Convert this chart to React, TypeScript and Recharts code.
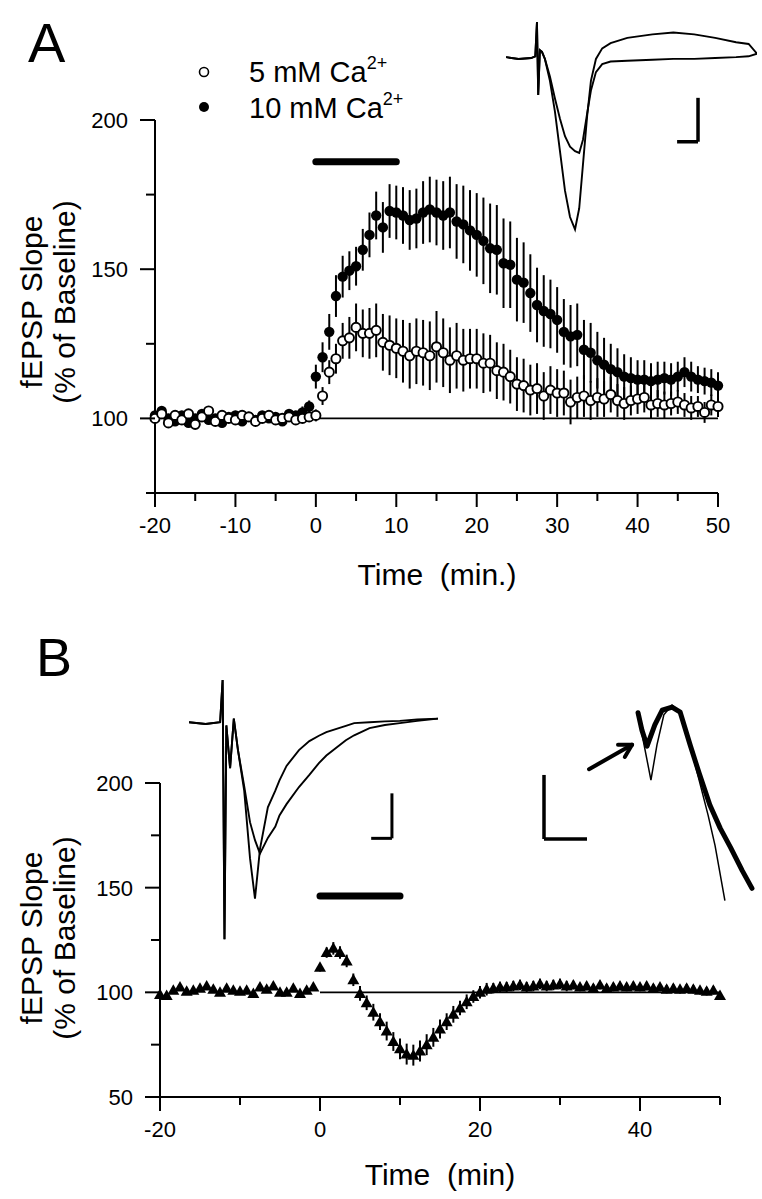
import React from 'react';
import { ScatterChart, Scatter, XAxis, YAxis, ErrorBar, ReferenceLine, LineChart, Line } from 'recharts';

const FONT = '"Liberation Sans", Arial, Helvetica, sans-serif';

// sampling grid, one average every 50 s from -20 to 50 min
const timeMin = Array.from({ length: 85 }, (_, i) => -20 + (i * 70) / 84);

// panel A: fEPSP slope (% of baseline)
const ca5Mean = [
  100, 101.5, 98.5, 101, 99.5, 101.5, 98, 100.5, 102.5, 99, 101, 100, 99.5, 101, 100.5, 99, 100, 101, 99.5, 100, 100.5, 99.5, 100, 100.5,
  101, 107.5, 115.5, 120, 126, 127, 130.5, 128.5, 128.5, 129.5, 125.5, 124.5, 123.5, 122.5, 121, 122.5, 122, 121, 124, 122, 119.5,
  121, 119.5, 120, 120, 118.5, 118.5, 116, 115.5, 114, 111.5, 111, 109.5, 110, 107.5, 109.5, 108.5, 108.5, 105.5, 107, 107.5, 106,
  107, 106.5, 108, 106, 105, 106, 106.5, 107, 104.5, 105, 104.5, 105, 105.5, 104.5, 103.5, 104, 102, 104.5, 104,
];
const ca5Sem = [
  1.5, 1.5, 1.5, 1.5, 1.5, 1.5, 1.5, 1.5, 1.5, 1.5, 1.5, 1.5, 1.5, 1.5, 1.5, 1.5, 1.5, 1.5, 1.5, 1.5, 1.5, 1.5, 1.5, 1.5,
  2, 3, 4, 5, 6, 7, 8, 8, 8.5, 9, 9.5, 10, 10, 10.5, 11, 11, 11, 11.5, 12, 11.5, 11, 11, 10.5, 10, 10, 10, 9.5, 9.5, 9.5, 9,
  9, 9, 8.5, 8.5, 8, 8, 8, 7.5, 7.5, 7, 7, 6.5, 6.5, 6, 6, 5.5, 5.5, 5, 5, 5, 4.5, 4.5, 4.5, 4, 4, 4, 4, 3.5, 3.5, 3.5, 3.5,
];
const ca10Mean = [
  101, 102.5, 100, 99, 101, 98.5, 100, 101.5, 99.5, 100, 98.5, 100.5, 101, 99, 100.5, 99.5, 101, 100, 100.5, 99, 101.5, 101, 102, 104,
  114, 120.5, 129, 141, 147.5, 149.5, 151, 156.5, 161.5, 168, 164, 169.5, 169, 168, 166.5, 167, 169, 170, 169, 168, 169, 166, 165,
  163, 161.5, 159.5, 157, 156.5, 152, 151.5, 146.5, 145.5, 142, 138, 136, 135, 133, 129, 127.5, 128, 123, 122, 119.5,
  118, 116.5, 115.5, 114, 113.5, 113, 113, 112.5, 113, 113.5, 113, 114, 115.5, 114, 113, 112.5, 112, 111,
];
const ca10Sem = [
  1.5, 1.5, 1.5, 1.5, 1.5, 1.5, 1.5, 1.5, 1.5, 1.5, 1.5, 1.5, 1.5, 1.5, 1.5, 1.5, 1.5, 1.5, 1.5, 1.5, 1.5, 1.5, 2, 2,
  4, 5, 6, 7, 7, 6.5, 6.5, 7, 7.5, 8, 8.5, 9, 9, 9.5, 10, 10, 10.5, 11, 11, 11.5, 12, 12.5, 13, 13.5, 14, 14.5, 15, 15, 15, 14.5,
  14, 13.5, 13, 12.5, 12, 11.5, 11, 11, 10.5, 10.5, 10, 10, 9.5, 9, 8.5, 8, 7.5, 7, 6.5, 6.5, 6, 6, 5.5, 5.5, 5, 5, 5, 4.5, 4.5, 4.5, 4.5,
];

// panel B
const bMean = [
  99, 98.5, 101, 102.5, 100.5, 101, 102, 103, 101.5, 100, 102, 101, 100.5, 101, 99.5, 102.5, 101.5, 103, 100, 100, 102, 99.5, 101, 102.5,
  112, 119, 121, 119, 115, 106, 99.5, 95, 90.5, 86, 81.5, 76.5, 73, 70.5, 70, 72, 75, 78.5, 82.5, 86, 89.5, 92.5, 95.5, 98, 100,
  101.5, 102, 102.5, 102.5, 103, 103.5, 102.5, 103, 104, 103, 103.5, 104, 103, 103.5, 102.5, 103, 102, 103.5, 102, 102.5, 103, 102.5,
  103, 102.5, 103, 102, 102.5, 101.5, 102, 101.5, 102, 101.5, 101, 100.5, 101, 98.5,
];
const bSem = [
  1.5, 1.5, 1.5, 1.5, 1.5, 1.5, 1.5, 1.5, 1.5, 1.5, 1.5, 1.5, 1.5, 1.5, 1.5, 1.5, 1.5, 1.5, 1.5, 1.5, 1.5, 1.5, 1.5, 1.5,
  2, 2.5, 3, 3, 3, 3, 3.5, 3.5, 4, 4, 4.5, 4.5, 5, 5, 5, 5, 5, 4.5, 4.5, 4, 4, 3.5, 3.5, 3, 3, 3, 2.5, 2.5, 2.5, 2.5,
  2.5, 2.5, 2.5, 2.5, 2.5, 2.5, 2.5, 2.5, 2, 2, 2, 2, 2, 2, 2, 2, 2, 2, 2, 2, 2, 2, 2, 2, 2, 2, 2, 2, 2, 2, 2,
];

const ticksAx = [-20, -15, -10, -5, 0, 5, 10, 15, 20, 25, 30, 35, 40, 45, 50];
const ticksAy = [75, 100, 125, 150, 175, 200];
const ticksBx = [-20, -10, 0, 10, 20, 30, 40, 50];
const ticksBy = [50, 75, 100, 125, 150, 175, 200];

const drugA = { from: 0, to: 10, level: 186 };
const drugB = { from: 0, to: 10, level: 146 };

// inset A: averaged fEPSPs (ms, mV)
const insetATime = [0, 3, 6, 7, 7.4, 7.7, 8.1, 8.6, 9.3, 10.5, 11.7, 12.9, 14.1, 15.3, 16.5, 17.5, 18.4, 19.4, 20.3, 21.5, 23, 25, 29, 35, 40, 45, 50, 55, 58, 60];
const insetA10 = [0.02, 0, 0.01, 0.03, 0.42, -0.41, 0.1, 0.08, 0, -0.25, -0.6, -1.05, -1.5, -1.8, -1.94, -1.7, -1.2, -0.65, -0.25, 0, 0.12, 0.18, 0.24, 0.28, 0.3, 0.28, 0.24, 0.19, 0.17, 0.06];
const insetA5 = [0.02, 0, 0.01, 0.03, 0.42, -0.41, 0.1, 0.08, 0, -0.2, -0.45, -0.68, -0.88, -1.0, -1.05, -1.07, -0.92, -0.62, -0.36, -0.15, -0.06, -0.03, -0.02, -0.01, 0, 0, 0.01, 0.02, 0.03, 0.06];

// inset B left
const insetBTime = [0, 4, 7.5, 8.1, 8.55, 9, 9.9, 10.8, 11.8, 13.3, 14.7, 15.9, 17.1, 19, 20.8, 21.8, 23.5, 26.5, 29, 31.3, 33.1, 37.8, 39.8, 43.5, 47.2, 50.8, 55, 60];
const insetBFast = [0.02, -0.02, 0.02, 0.96, -4.8, -0.05, -1.0, 0.1, -0.6, -1.5, -3.0, -3.9, -2.8, -1.87, -1.5, -1.27, -0.95, -0.6, -0.4, -0.28, -0.2, -0.06, 0, 0.02, 0.04, 0.05, 0.08, 0.1];
const insetBSlow = [0.02, -0.02, 0.02, 0.96, -4.8, -0.05, -1.0, 0.1, -0.6, -1.4, -2.2, -2.6, -2.9, -2.55, -2.3, -2.05, -1.8, -1.42, -1.15, -0.89, -0.72, -0.38, -0.27, -0.11, -0.04, 0, 0.05, 0.1];

// inset B right (fiber volley, expanded)
const thickTime = [2.28, 2.37, 2.49, 2.67, 2.84, 3.07, 3.26, 3.49, 3.7, 3.95, 4.19, 4.43, 4.7, 4.93];
const thickV = [-0.2, -0.47, -0.72, -0.39, -0.16, -0.11, -0.19, -0.7, -1.14, -1.64, -2.0, -2.3, -2.66, -2.94];
const thinTime = [2.28, 2.42, 2.58, 2.72, 2.88, 3.07, 3.26, 3.49, 3.7, 3.91, 4.07, 4.3];
const thinV = [-0.2, -0.7, -1.25, -0.7, -0.23, -0.08, -0.19, -0.7, -1.25, -1.8, -2.27, -3.13];

const pack = (m: number[], s: number[]) => timeMin.map((t, i) => ({ t, v: m[i], e: s[i] }));
const trace = (ts: number[], vs: number[]) => ts.map((t, i) => ({ t, v: vs[i] }));

const openDot = (p: any) => <circle cx={p.cx} cy={p.cy} r={4.6} fill="#fff" stroke="#000" strokeWidth={1.9} />;
const fillDot = (p: any) => <circle cx={p.cx} cy={p.cy} r={5.2} fill="#000" />;
const triangle = (p: any) => (
  <polygon points={`${p.cx},${p.cy - 6} ${p.cx + 6},${p.cy + 4.5} ${p.cx - 6},${p.cy + 4.5}`} fill="#000" />
);

function XTick({ x, y, payload, every }: any) {
  const major = payload.value % every === 0;
  return (
    <g>
      <line x1={x} x2={x} y1={y} y2={y + (major ? 14 : 8)} stroke="#000" strokeWidth={2} />
      {major && (
        <text x={x} y={y + 40} textAnchor="middle" fontSize={22} fontFamily={FONT} fill="#000">
          {payload.value}
        </text>
      )}
    </g>
  );
}

function YTick({ x, y, payload }: any) {
  const major = payload.value % 50 === 0;
  return (
    <g>
      <line x1={x - (major ? 15 : 9)} x2={x} y1={y} y2={y} stroke="#000" strokeWidth={2} />
      {major && (
        <text x={x - 27} y={y + 8} textAnchor="end" fontSize={22} fontFamily={FONT} fill="#000">
          {payload.value}
        </text>
      )}
    </g>
  );
}

const axisLine = { stroke: '#000', strokeWidth: 2 };

export default function App() {
  return (
    <div style={{ position: 'absolute', left: 0, top: 0, width: 762, height: 1199, background: '#fff', fontFamily: FONT }}>
      <div style={{ position: 'absolute', left: 0, top: 0 }}>
        <ScatterChart width={762} height={560} margin={{ top: 120, right: 44, bottom: 27, left: 0 }}>
          <XAxis type="number" dataKey="t" domain={[-20, 50]} ticks={ticksAx} interval={0} height={40}
            axisLine={axisLine} tickLine={false} tickSize={0} tickMargin={0} tick={(p: any) => <XTick {...p} every={10} />} />
          <YAxis type="number" dataKey="v" domain={[75, 200]} ticks={ticksAy} interval={0} width={155}
            axisLine={axisLine} tickLine={false} tickSize={0} tickMargin={0} tick={(p: any) => <YTick {...p} />} />
          <ReferenceLine segment={[{ x: 0, y: 100 }, { x: 50, y: 100 }]} stroke="#000" strokeWidth={1.8} />
          <ReferenceLine segment={[{ x: drugA.from, y: drugA.level }, { x: drugA.to, y: drugA.level }]} stroke="#000" strokeWidth={7} strokeLinecap="round" />
          <Scatter data={pack(ca10Mean, ca10Sem)} shape={fillDot} isAnimationActive={false}>
            <ErrorBar dataKey="e" direction="y" width={0} stroke="#000" strokeWidth={2} isAnimationActive={false} />
          </Scatter>
          <Scatter data={pack(ca5Mean, ca5Sem)} shape={openDot} isAnimationActive={false}>
            <ErrorBar dataKey="e" direction="y" width={0} stroke="#000" strokeWidth={2} isAnimationActive={false} />
          </Scatter>
        </ScatterChart>
      </div>

      <div style={{ position: 'absolute', left: 0, top: 600 }}>
        <ScatterChart width={762} height={560} margin={{ top: 183, right: 42, bottom: 23, left: 0 }}>
          <XAxis type="number" dataKey="t" domain={[-20, 50]} ticks={ticksBx} interval={0} height={40}
            axisLine={axisLine} tickLine={false} tickSize={0} tickMargin={0} tick={(p: any) => <XTick {...p} every={20} />} />
          <YAxis type="number" dataKey="v" domain={[50, 200]} ticks={ticksBy} interval={0} width={160}
            axisLine={axisLine} tickLine={false} tickSize={0} tickMargin={0} tick={(p: any) => <YTick {...p} />} />
          <ReferenceLine segment={[{ x: 0, y: 100 }, { x: 50, y: 100 }]} stroke="#000" strokeWidth={1.8} />
          <ReferenceLine segment={[{ x: drugB.from, y: drugB.level }, { x: drugB.to, y: drugB.level }]} stroke="#000" strokeWidth={7} strokeLinecap="round" />
          <Scatter data={pack(bMean, bSem)} shape={triangle} isAnimationActive={false}>
            <ErrorBar dataKey="e" direction="y" width={0} stroke="#000" strokeWidth={2} isAnimationActive={false} />
          </Scatter>
        </ScatterChart>
      </div>

      {/* inset A traces */}
      <div style={{ position: 'absolute', left: 506, top: 15 }}>
        <LineChart width={251} height={224} margin={{ top: 0, right: 0, bottom: 0, left: 0 }}>
          <XAxis type="number" dataKey="t" domain={[0, 60]} hide />
          <YAxis type="number" domain={[-2.05, 0.5]} hide />
          <Line data={trace(insetATime, insetA10)} dataKey="v" dot={false} stroke="#000" strokeWidth={1.9} isAnimationActive={false} />
          <Line data={trace(insetATime, insetA5)} dataKey="v" dot={false} stroke="#000" strokeWidth={1.9} isAnimationActive={false} />
          <ReferenceLine segment={[{ x: 45.9, y: -0.443 }, { x: 45.9, y: -0.943 }]} stroke="#000" strokeWidth={3.5} />
          <ReferenceLine segment={[{ x: 40.9, y: -0.943 }, { x: 45.9, y: -0.943 }]} stroke="#000" strokeWidth={3.5} />
        </LineChart>
      </div>

      {/* inset B left */}
      <div style={{ position: 'absolute', left: 189, top: 675 }}>
        <LineChart width={249} height={270} margin={{ top: 0, right: 0, bottom: 0, left: 0 }}>
          <XAxis type="number" dataKey="t" domain={[0, 60]} hide />
          <YAxis type="number" domain={[-4.93, 1.07]} hide />
          <Line data={trace(insetBTime, insetBFast)} dataKey="v" dot={false} stroke="#000" strokeWidth={1.9} isAnimationActive={false} />
          <Line data={trace(insetBTime, insetBSlow)} dataKey="v" dot={false} stroke="#000" strokeWidth={1.9} isAnimationActive={false} />
          <ReferenceLine segment={[{ x: 48.9, y: -1.56 }, { x: 48.9, y: -2.56 }]} stroke="#000" strokeWidth={3} />
          <ReferenceLine segment={[{ x: 43.9, y: -2.56 }, { x: 48.9, y: -2.56 }]} stroke="#000" strokeWidth={3} />
        </LineChart>
      </div>

      {/* inset B right */}
      <div style={{ position: 'absolute', left: 540, top: 700 }}>
        <LineChart width={220} height={205} margin={{ top: 0, right: 0, bottom: 0, left: 0 }}>
          <XAxis type="number" dataKey="t" domain={[0, 5.116]} hide />
          <YAxis type="number" domain={[-3.2, 0]} hide />
          <Line data={trace(thinTime, thinV)} dataKey="v" dot={false} stroke="#000" strokeWidth={1.5} isAnimationActive={false} />
          <Line data={trace(thickTime, thickV)} dataKey="v" dot={false} stroke="#000" strokeWidth={5} strokeLinecap="round" strokeLinejoin="round" isAnimationActive={false} />
          <ReferenceLine segment={[{ x: 0.093, y: -1.17 }, { x: 0.093, y: -2.17 }]} stroke="#000" strokeWidth={3.5} />
          <ReferenceLine segment={[{ x: 0.093, y: -2.17 }, { x: 1.093, y: -2.17 }]} stroke="#000" strokeWidth={3.5} />
          <ReferenceLine segment={[{ x: 1.14, y: -1.08 }, { x: 2.14, y: -0.7 }]} stroke="#000" strokeWidth={4} strokeLinecap="round" />
          <ReferenceLine segment={[{ x: 1.814, y: -0.7 }, { x: 2.14, y: -0.7 }]} stroke="#000" strokeWidth={4} strokeLinecap="round" />
          <ReferenceLine segment={[{ x: 1.972, y: -0.89 }, { x: 2.14, y: -0.7 }]} stroke="#000" strokeWidth={4} strokeLinecap="round" />
        </LineChart>
      </div>

      <svg width={762} height={1199} style={{ position: 'absolute', left: 0, top: 0, pointerEvents: 'none' }} fontFamily={FONT}>
        <text x={28} y={62} fontSize={56}>A</text>
        <text x={36} y={676} fontSize={54}>B</text>

        <circle cx={204} cy={72} r={4.5} fill="#fff" stroke="#000" strokeWidth={1.6} />
        <text x={249} y={82} fontSize={29}>5 mM Ca<tspan dy={-13} fontSize={18}>2+</tspan></text>
        <circle cx={204} cy={107} r={5} fill="#000" />
        <text x={249} y={118} fontSize={29}>10 mM Ca<tspan dy={-13} fontSize={18}>2+</tspan></text>

        <text transform="translate(42,302) rotate(-90)" textAnchor="middle" fontSize={30}>fEPSP Slope</text>
        <text transform="translate(75,302) rotate(-90)" textAnchor="middle" fontSize={30}>(% of Baseline)</text>
        <text transform="translate(42,938) rotate(-90)" textAnchor="middle" fontSize={30}>fEPSP Slope</text>
        <text transform="translate(75,938) rotate(-90)" textAnchor="middle" fontSize={30}>(% of Baseline)</text>

        <text x={437} y={585} textAnchor="middle" fontSize={30} style={{ whiteSpace: 'pre' }}>Time  (min.)</text>
        <text x={440} y={1185} textAnchor="middle" fontSize={30} style={{ whiteSpace: 'pre' }}>Time  (min)</text>
      </svg>
    </div>
  );
}
